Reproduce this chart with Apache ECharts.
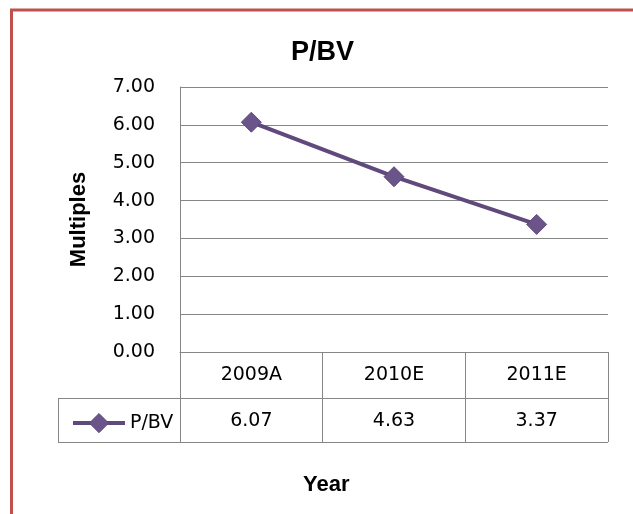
<!DOCTYPE html>
<html><head><meta charset="utf-8">
<script src="https://cdn.jsdelivr.net/npm/echarts@6/dist/echarts.min.js"></script>
<style>html,body{margin:0;padding:0;background:#fff}#c{width:633px;height:514px}</style>
</head><body><div id="c"></div>
<script>
const categories = ['2009A', '2010E', '2011E'];
const pbv = [6.07, 4.63, 3.37];
const seriesName = 'P/BV';
const yMin = 0, yMax = 7, yStep = 1;

const grey = '#868686';
const purple = '#604a7b';
const regular = 'DejaVu Sans';
const bold = 'Liberation Sans';

const chart = echarts.init(document.getElementById('c'), null, {renderer: 'canvas'});
chart.setOption({
  animation: false,
  backgroundColor: '#fff',
  title: [
    {text: 'P/BV', left: 286, top: 34, textStyle: {fontFamily: bold, fontSize: 27, fontWeight: 'bold', color: '#000'}},
    {text: 'Year', left: 298, top: 469, textStyle: {fontFamily: bold, fontSize: 22, fontWeight: 'bold', color: '#000'}}
  ],
  grid: {left: 180, right: 25, top: 87, bottom: 162},
  legend: {
    data: [seriesName], left: 66, top: 408, itemWidth: 52, itemHeight: 24,
    lineStyle: {width: 4, color: purple},
    itemStyle: {color: '#6a548a', borderColor: purple, borderWidth: 1},
    textStyle: {fontFamily: regular, fontSize: 19, color: '#000'}
  },
  xAxis: [{
    type: 'category', data: categories, boundaryGap: true,
    axisLine: {show: true, lineStyle: {color: grey, width: 1}},
    axisTick: {show: true, interval: 0, length: 46, lineStyle: {color: grey}},
    axisLabel: {margin: 14, fontFamily: regular, fontSize: 19, color: '#000'},
    splitLine: {show: false}
  }, {
    type: 'category', data: pbv.map(v => v.toFixed(2)), position: 'bottom', offset: 46,
    axisLine: {show: true, lineStyle: {color: grey, width: 1}},
    axisTick: {show: true, interval: 0, length: 44, lineStyle: {color: grey}},
    axisLabel: {margin: 14, fontFamily: regular, fontSize: 19, color: '#000'}
  }],
  yAxis: {
    type: 'value', min: yMin, max: yMax, interval: yStep,
    axisLine: {show: true, lineStyle: {color: grey, width: 1}},
    axisTick: {show: false},
    axisLabel: {margin: 25, fontFamily: regular, fontSize: 19, color: '#000', formatter: v => v.toFixed(2)},
    splitLine: {show: true, lineStyle: {color: grey, width: 1}},
    name: 'Multiples', nameLocation: 'middle', nameGap: 90,
    nameTextStyle: {fontFamily: bold, fontSize: 22, fontWeight: 'bold', color: '#000'}
  },
  series: [{
    name: seriesName, type: 'line', xAxisIndex: 0, data: pbv,
    symbol: 'diamond', symbolSize: 20,
    lineStyle: {color: purple, width: 4},
    itemStyle: {color: '#6a548a', borderColor: purple, borderWidth: 1}
  }],
  graphic: [
    {type: 'line', shape: {x1: 58, y1: 398.5, x2: 180, y2: 398.5}, style: {stroke: grey, lineWidth: 1}},
    {type: 'line', shape: {x1: 58.5, y1: 398, x2: 58.5, y2: 442}, style: {stroke: grey, lineWidth: 1}},
    {type: 'line', shape: {x1: 58, y1: 442.5, x2: 608, y2: 442.5}, style: {stroke: grey, lineWidth: 1}},
    {type: 'line', shape: {x1: 10, y1: 10, x2: 633, y2: 10}, style: {stroke: '#c0504d', lineWidth: 3}},
    {type: 'line', shape: {x1: 11.5, y1: 9, x2: 11.5, y2: 514}, style: {stroke: '#c0504d', lineWidth: 3}}
  ]
});
</script></body></html>
